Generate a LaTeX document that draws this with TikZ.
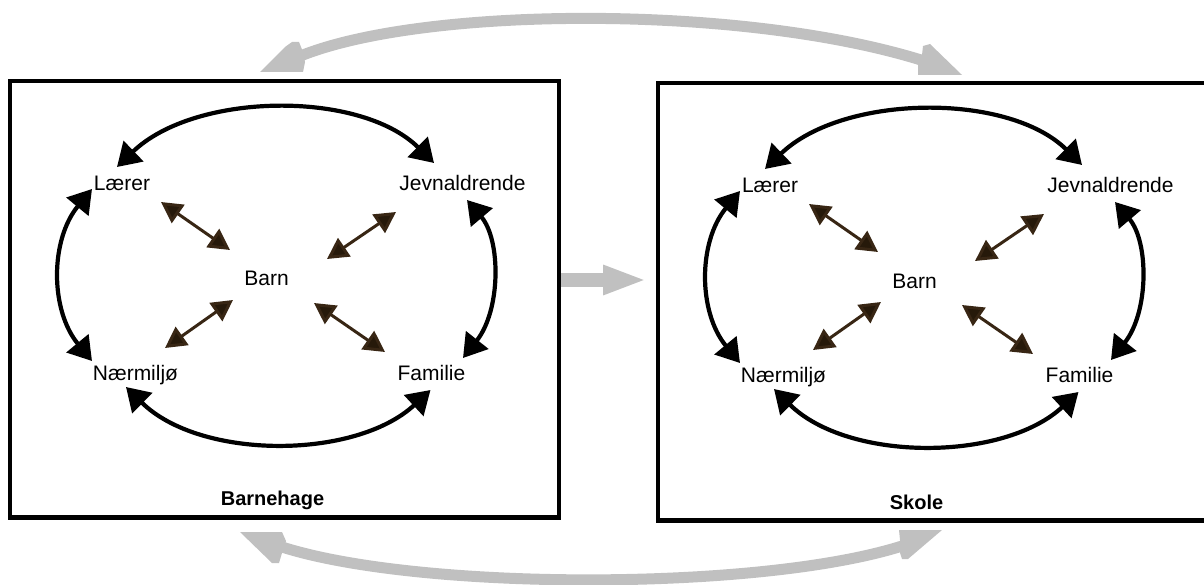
\documentclass[tikz,border=0pt]{standalone}
\usepackage{fontspec}
\setmainfont{Liberation Sans}
\usetikzlibrary{arrows.meta,calc}

\definecolor{linkgray}{RGB}{192,192,192}
\definecolor{tiebrown}{RGB}{56,38,20}
\definecolor{tiebrowndk}{RGB}{38,25,10}

\tikzset{
  word/.style={inner sep=0pt, anchor=base, font=\fontsize{21}{25}\selectfont},
  setting/.style={inner sep=0pt, anchor=base, font=\fontsize{20}{24}\selectfont\bfseries},
  frame/.style={draw=black, line width=4.5pt},
  peerlink/.style={draw=black, line width=4.2pt,
    {Triangle[length=23pt,width=28pt]}-{Triangle[length=23pt,width=28pt]}},
  childlink/.style={draw=tiebrown, line width=3pt,
    {Triangle[length=21pt,width=22pt,fill=tiebrowndk]}-{Triangle[length=21pt,width=22pt,fill=tiebrowndk]}},
  transfer/.style={draw=linkgray, line width=11pt},
  transferhead/.style={fill=linkgray},
}

% One setting: the child in the middle, the four parties around it.
% #1 name prefix, #2 shift, #3 setting name, #4 label position
\newcommand\drawsetting[4]{%
\begin{scope}[shift={#2}, name prefix=#1-]
  \node[word] (lar)  at (122,190.5)   {Lærer};
  \node[word] (jev)  at (462.5,190.5) {Jevnaldrende};
  \node[word] (barn) at (266.5,286)   {Barn};
  \node[word] (naer) at (135.5,380)   {Nærmiljø};
  \node[word] (fam)  at (431.5,380)   {Familie};
  \node[setting] (lbl) at #4 {#3};
  % ties between the parties
  \draw[peerlink] ($(lar.base)+(-5,-23.5)$) .. controls (195,92) and (360,90) .. ($(jev.base)+(-28.5,-27.5)$);
  \draw[peerlink] ($(lar.base)+(-30,-1.5)$) .. controls (50,240) and (50,310) .. ($(naer.base)+(-43.5,-19)$);
  \draw[peerlink] ($(jev.base)+(4.5,9.5)$) .. controls (501,240) and (501,310) .. ($(fam.base)+(31.5,-22)$);
  \draw[peerlink] ($(naer.base)+(-9.5,7)$) .. controls (200,460) and (355,460) .. ($(fam.base)+(-1,10)$);
  % ties to the child
  \draw[childlink] ($(lar.base)+(39,11.5)$) -- ($(barn.base)+(-36.5,-36)$);
  \draw[childlink] ($(jev.base)+(-66.5,21.5)$) -- ($(barn.base)+(60.5,-27)$);
  \draw[childlink] ($(barn.base)+(-33.5,14)$) -- ($(naer.base)+(29.5,-32)$);
  \draw[childlink] ($(barn.base)+(47.5,17)$) -- ($(fam.base)+(-46.5,-28)$);
\end{scope}}

\begin{document}
\begin{tikzpicture}[x=1pt, y=-1pt]
  \useasboundingbox (0,0) rectangle (1204,585);

  % frames of the two settings
  \draw[frame] (10,81) rectangle (559,517.5);
  \draw[frame] (1204,83) -- (658,83) -- (658,520.5) -- (1204,520.5);

  \drawsetting{BH}{(0,0)}{Barnehage}{(272.5,505)}
  \drawsetting{SK}{(648,2)}{Skole}{(268.5,507)}

  % transition from one setting to the next
  \coordinate (midA) at (561,280);
  \coordinate (midB) at (647,280);
  \draw[draw=linkgray, line width=14pt, -{Triangle[length=44pt,width=27pt]}] (midA) -- (midB);

  % curved transfer arrows above and below
  \coordinate (upL) at (298,57);
  \coordinate (upR) at (921,60);
  \draw[transfer] (upL) .. controls (420,6) and (740,4) .. (upR);
  \fill[transferhead] (260,72) -- (285,47) -- (292,42) -- (299,42) -- (303,52) -- (305,62) -- (303,72) -- cycle;
  \fill[transferhead] (918,75) -- (918,63) -- (922,55) -- (923,46) -- (930,44) -- (962,75) -- cycle;

  \coordinate (loL) at (282,547);
  \coordinate (loR) at (902,546);
  \draw[transfer] (loL) .. controls (420,591) and (760,591) .. (loR);
  \fill[transferhead] (240,532) -- (282,532) -- (286,541) -- (282,553) -- (279,563) -- (272,563) -- cycle;
  \fill[transferhead] (899,530) -- (942,530) -- (908,559) -- (902,559) -- (900,553) -- (900,540) -- cycle;
\end{tikzpicture}
\end{document}
